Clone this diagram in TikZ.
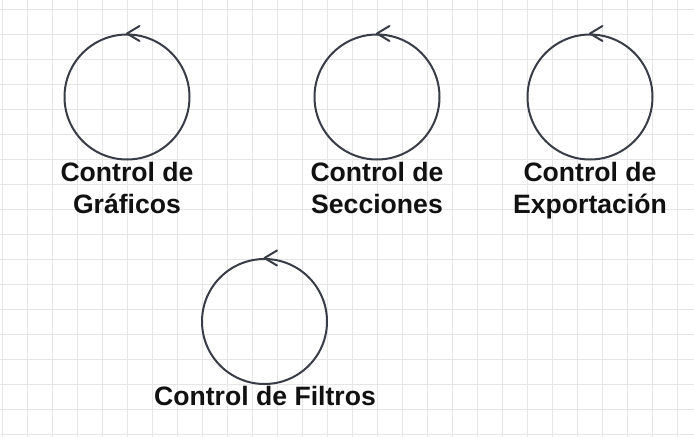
\documentclass[tikz,border=0pt]{standalone}
\usepackage{fontspec}
\setmainfont{Liberation Sans}
\usetikzlibrary{calc}
\definecolor{gridc}{HTML}{E6E6E6}
\definecolor{ctrl}{HTML}{383D47}
\definecolor{txt}{HTML}{111111}
\begin{document}
\begin{tikzpicture}[x=1pt,y=-1pt,
  ctrlcircle/.style={circle,draw=ctrl,line width=2pt,minimum size=125pt,inner sep=0pt},
  chevron/.style={draw=ctrl,line width=2pt,line cap=round,line join=round},
  lbl/.style={anchor=base,inner sep=0pt,text=txt,font=\fontsize{26.6}{32}\selectfont\bfseries}]
\useasboundingbox (0,0) rectangle (694,437);
\fill[white] (0,0) rectangle (694,437);
\foreach \i in {0,...,27} \draw[gridc,line width=1pt] (2.5+25*\i,0) -- (2.5+25*\i,437);
\foreach \j in {0,...,17} \draw[gridc,line width=1pt] (0,9.3+25*\j) -- (694,9.3+25*\j);

\node[ctrlcircle] (c1) at (127,97) {};
\node[ctrlcircle] (c2) at (377,97) {};
\node[ctrlcircle] (c3) at (590,97) {};
\node[ctrlcircle] (c4) at (264.5,321.5) {};
\foreach \c in {c1,c2,c3,c4}
  \draw[chevron] ($(\c.north)+(12.5,-7.5)$) -- (\c.north) -- ($(\c.north)+(12.5,7.5)$);

\node[lbl] (l1a) at (127,181.2) {Control de};
\node[lbl] (l1b) at (127,213.2) {Gráficos};
\node[lbl] (l2a) at (377,181.2) {Control de};
\node[lbl] (l2b) at (377,213.2) {Secciones};
\node[lbl] (l3a) at (590,181.2) {Control de};
\node[lbl] (l3b) at (590,213.2) {Exportación};
\node[lbl] (l4) at (265,405.5) {Control de Filtros};
\end{tikzpicture}
\end{document}
